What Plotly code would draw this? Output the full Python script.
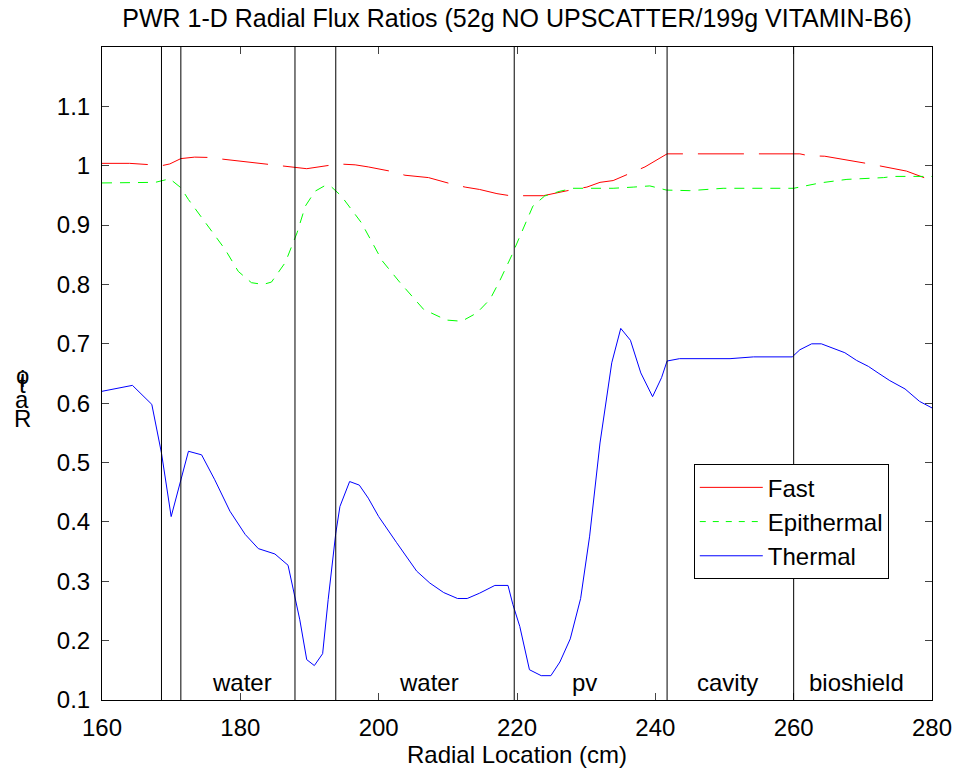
import plotly.graph_objects as go

# ---------------- data ----------------
fast_x = [160, 164, 166.6, 168.6, 169.8, 171.4, 173.4, 175.3, 177.5, 184.0, 186.3, 188.9, 189.6,
          194.2, 196.6, 198.5, 201.6, 203.8, 207.2, 210.3, 212.5, 214.6, 217.1, 219.0, 221.2,
          223.8, 227.7, 230.1, 232.0, 233.9, 236.3, 238.5, 241.7, 260.0, 260.9, 262.1, 264.5,
          271.0, 273.2, 276.3, 280.0]
fast_y = [1.004, 1.004, 1.002, 1.000, 1.003, 1.012, 1.0145, 1.014, 1.011, 1.002, 0.999, 0.995, 0.995,
          1.003, 1.0015, 0.998, 0.991, 0.984, 0.980, 0.970, 0.964, 0.960, 0.953, 0.9495, 0.9495,
          0.9495, 0.959, 0.964, 0.972, 0.975, 0.987, 0.998, 1.020, 1.020, 1.020, 1.017, 1.016,
          1.003, 0.998, 0.991, 0.975]

epi_x = [160, 167.7, 169.8, 171.4, 172.5, 174.9, 177.8, 179.7, 181.6, 183.3, 184.5, 186.5, 188.2,
         189.4, 190.8, 192.3, 193.2, 194.6, 197.5, 200.5, 203.1, 206.5, 209.8, 212.0, 214.2,
         216.1, 217.5, 219.2, 220.9, 222.3, 224.0, 226.2, 228.1, 233.9, 236.8, 239.2, 241.6,
         245.0, 249.8, 260.0, 263.8, 267.7, 273.0, 274.4, 280.0]
epi_y = [0.971, 0.972, 0.978, 0.963, 0.943, 0.904, 0.859, 0.822, 0.803, 0.800, 0.804, 0.837, 0.887,
         0.932, 0.957, 0.967, 0.964, 0.949, 0.904, 0.840, 0.803, 0.758, 0.740, 0.738, 0.752,
         0.775, 0.806, 0.848, 0.893, 0.932, 0.949, 0.957, 0.962, 0.962, 0.964, 0.966, 0.959,
         0.958, 0.962, 0.962, 0.971, 0.977, 0.980, 0.982, 0.982]

therm_x = [160, 164.4, 167.2, 168.6, 170.0, 171.3, 172.5, 174.4, 176.3, 178.5, 180.7, 182.6, 185.0,
           186.9, 188.0, 188.6, 189.6, 190.7, 191.9, 192.7, 193.8, 194.4, 195.8, 197.2, 198.5,
           200.0, 202.6, 205.5, 207.4, 209.4, 211.4, 212.8, 214.6, 216.8, 218.7, 219.4, 220.4,
           221.8, 223.5, 224.9, 226.2, 227.7, 229.2, 230.5, 232.0, 233.7, 235.0, 236.4, 237.9,
           239.6, 240.9, 241.7, 243.5, 250.8, 254.2, 259.8, 260.9, 262.6, 264.0, 265.7, 267.4,
           269.1, 270.8, 272.2, 273.9, 276.1, 278.2, 280.0]
therm_y = [0.620, 0.630, 0.598, 0.516, 0.409, 0.466, 0.519, 0.513, 0.471, 0.418, 0.379, 0.355, 0.346,
           0.327, 0.269, 0.235, 0.168, 0.158, 0.178, 0.269, 0.381, 0.426, 0.468, 0.462, 0.440,
           0.409, 0.365, 0.317, 0.297, 0.281, 0.271, 0.271, 0.280, 0.293, 0.293, 0.261, 0.224,
           0.151, 0.141, 0.141, 0.164, 0.203, 0.271, 0.376, 0.533, 0.668, 0.726, 0.706, 0.651,
           0.611, 0.643, 0.671, 0.675, 0.675, 0.678, 0.678, 0.690, 0.700, 0.700, 0.692, 0.685,
           0.672, 0.662, 0.651, 0.638, 0.624, 0.603, 0.592]

boundaries = [168.6, 171.4, 187.9, 193.8, 219.6, 241.7, 260.0]
region_names = ["water", "water", "pv", "cavity", "bioshield"]
region_x = [180.3, 207.3, 229.7, 250.4, 269.1]
region_y = 0.13

x_ticks = [160, 180, 200, 220, 240, 260, 280]
y_ticks = [0.1, 0.2, 0.3, 0.4, 0.5, 0.6, 0.7, 0.8, 0.9, 1.0, 1.1]
y_tick_text = ["0.1", "0.2", "0.3", "0.4", "0.5", "0.6", "0.7", "0.8", "0.9", "1", "1.1"]

title_text = "PWR 1-D Radial Flux Ratios (52g NO UPSCATTER/199g VITAMIN-B6)"
xlabel = "Radial Location (cm)"
ylabel_chars = ["R", "a", "t", "i", "o"]
ylabel_pix = [418, 400, 384, 378, 375]

FONT = "Liberation Sans, Arial, sans-serif"
FS = 24

# ---------------- figure ----------------
fig = go.Figure()

fig.add_trace(go.Scatter(x=fast_x, y=fast_y, mode="lines", showlegend=False,
                         line=dict(color="#FF0000", width=1, dash="46px,15px")))
fig.add_trace(go.Scatter(x=epi_x, y=epi_y, mode="lines", showlegend=False,
                         line=dict(color="#00FF00", width=1, dash="10px,8px")))
fig.add_trace(go.Scatter(x=therm_x, y=therm_y, mode="lines", showlegend=False,
                         line=dict(color="#0000FF", width=1)))

# legend entries (as in the reference legend)
fig.add_trace(go.Scatter(x=[None], y=[None], mode="lines", name="Fast",
                         line=dict(color="#FF0000", width=1)))
fig.add_trace(go.Scatter(x=[None], y=[None], mode="lines", name="Epithermal",
                         line=dict(color="#00FF00", width=1, dash="6px,7px")))
fig.add_trace(go.Scatter(x=[None], y=[None], mode="lines", name="Thermal",
                         line=dict(color="#0000FF", width=1)))

for b in boundaries:
    fig.add_shape(type="line", x0=b, x1=b, y0=0, y1=1, xref="x", yref="paper",
                  line=dict(color="black", width=1))

for name, rx in zip(region_names, region_x):
    fig.add_annotation(x=rx, y=region_y, text=name, showarrow=False, xref="x", yref="y",
                       font=dict(family=FONT, size=FS, color="black"))

W, H = 958, 774
ml, mr, mt, mb = 102, 26, 47, 74
ph = H - mt - mb
for ch, py in zip(ylabel_chars, ylabel_pix):
    fig.add_annotation(x=(22 - ml) / (W - ml - mr), y=(H - mb - py) / ph, xref="paper", yref="paper",
                       text=ch, showarrow=False, xanchor="center", yanchor="middle",
                       font=dict(family=FONT, size=FS, color="black"))

fig.update_layout(
    width=W, height=H,
    margin=dict(l=ml, r=mr, t=mt, b=mb, autoexpand=False),
    paper_bgcolor="white", plot_bgcolor="white",
    font=dict(family=FONT, size=FS, color="black"),
    title=dict(text=title_text, x=(ml + (W - ml - mr) / 2) / W, xanchor="center",
               y=1 - 18 / H, yanchor="middle", yref="container",
               font=dict(family=FONT, size=25, color="black")),
    legend=dict(x=0.713, y=0.361, xanchor="left", yanchor="top",
                bordercolor="black", borderwidth=1, bgcolor="white", itemwidth=63,
                font=dict(family=FONT, size=FS, color="black")),
)
fig.update_xaxes(range=[160, 280], tickvals=x_ticks, ticks="inside", ticklen=7,
                 showline=True, linecolor="black", linewidth=1, mirror="ticks",
                 showgrid=False, zeroline=False, ticklabelstandoff=6, automargin=False,
                 title=dict(text=xlabel, standoff=6, font=dict(family=FONT, size=FS)))
fig.update_yaxes(range=[0.1, 1.2], tickvals=y_ticks, ticktext=y_tick_text, ticks="inside", ticklen=7,
                 showline=True, linecolor="black", linewidth=1, mirror="ticks",
                 showgrid=False, zeroline=False, ticklabelstandoff=6, automargin=False)

fig.write_html("out.html")
